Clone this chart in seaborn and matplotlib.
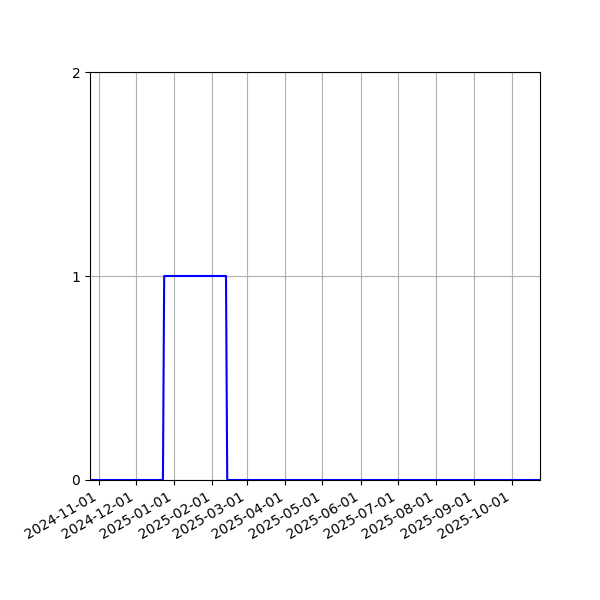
import pandas as pd
import matplotlib
matplotlib.use("Agg")
import matplotlib.pyplot as plt
import matplotlib.dates as mdates
import seaborn as sns

# ------------------ Veri ------------------
dates = ["2024-10-25", "2024-12-23", "2024-12-24", "2025-02-12", "2025-02-13", "2025-10-24"]
values = [0, 0, 1, 1, 0, 0]
y_ticks = [0, 1, 2]

df = pd.DataFrame({"date": pd.to_datetime(dates), "value": values})

# ------------------ Grafik ------------------
fig, ax = plt.subplots(figsize=(6, 6), dpi=100)
sns.lineplot(data=df, x="date", y="value", color="blue", linewidth=1.5, ax=ax)

ax.set_xlim(df["date"].min(), df["date"].max())
ax.set_ylim(0, 2)
ax.set_yticks(y_ticks)
ax.xaxis.set_major_locator(mdates.MonthLocator())
ax.xaxis.set_major_formatter(mdates.DateFormatter("%Y-%m-%d"))
ax.set_xlabel("")
ax.set_ylabel("")
ax.grid(True)
fig.autofmt_xdate()
fig.subplots_adjust(left=0.15, right=0.9, top=0.88, bottom=0.2)

plt.savefig("out.png")
